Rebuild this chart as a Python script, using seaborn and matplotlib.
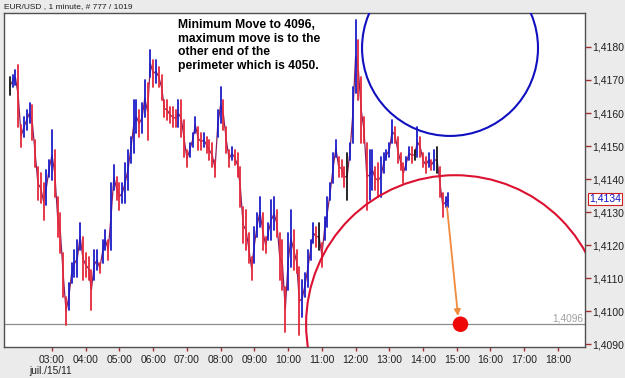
import numpy as np
import pandas as pd
import matplotlib
matplotlib.use("Agg")
import matplotlib.pyplot as plt
import matplotlib.transforms as mtransforms
from matplotlib.patches import Ellipse
import seaborn as sns

# ---------------- data ----------------
title = "EUR/USD , 1 minute, # 777 / 1019"
date_label = "juil./15/11"
note_lines = ["Minimum Move to 4096,",
              "maximum move is to the",
              "other end of the",
              "perimeter which is 4050."]

start_minute = 105      # first bar at 01:45
bar_minutes = 5         # one drawn bar per 5 minutes

high = [1.41709, 1.41715, 1.41730, 1.41745, 1.41564, 1.41588, 1.41609, 1.41630, 1.41624, 1.41518,
        1.41436, 1.41418, 1.41388, 1.41427, 1.41458, 1.41548, 1.41488, 1.41345, 1.41297, 1.41176,
        1.41042, 1.41085, 1.41145, 1.41185, 1.41215, 1.41267, 1.41224, 1.41176, 1.41164, 1.41124,
        1.41185, 1.41185, 1.41145, 1.41215, 1.41245, 1.41215, 1.41388, 1.41442, 1.41406, 1.41388,
        1.41388, 1.41448, 1.41488, 1.41527, 1.41639, 1.41639, 1.41609, 1.41630, 1.41700, 1.41691,
        1.41791, 1.41761, 1.41761, 1.41739, 1.41715, 1.41639, 1.41639, 1.41618, 1.41618, 1.41609,
        1.41639, 1.41639, 1.41579, 1.41488, 1.41509, 1.41539, 1.41588, 1.41558, 1.41539, 1.41539,
        1.41527, 1.41518, 1.41509, 1.41458, 1.41609, 1.41679, 1.41639, 1.41558, 1.41488, 1.41497,
        1.41488, 1.41479, 1.41436, 1.41315, 1.41306, 1.41236, 1.41164, 1.41255, 1.41297, 1.41345,
        1.41297, 1.41224, 1.41267, 1.41336, 1.41345, 1.41306, 1.41236, 1.41215, 1.41073, 1.41236,
        1.41306, 1.41245, 1.41185, 1.41133, 1.41094, 1.41115, 1.41185, 1.41215, 1.41267, 1.41255,
        1.41267, 1.41206, 1.41285, 1.41345, 1.41388, 1.41479, 1.41518, 1.41467, 1.41458, 1.41436,
        1.41479, 1.41509, 1.41679, 1.41882, 1.41821, 1.41709, 1.41588, 1.41509, 1.41488, 1.41488,
        1.41436, 1.41448, 1.41467, 1.41479, 1.41488, 1.41509, 1.41579, 1.41558, 1.41527, 1.41479,
        1.41448, 1.41467, 1.41497, 1.41497, 1.41488, 1.41558, 1.41527, 1.41479, 1.41467, 1.41479,
        1.41458, 1.41488, 1.41497, 1.41436, 1.41358, 1.41345, 1.41358]

low = [1.41655, 1.41679, 1.41685, 1.41558, 1.41497, 1.41527, 1.41548, 1.41570, 1.41518, 1.41436,
       1.41336, 1.41327, 1.41276, 1.41321, 1.41406, 1.41397, 1.41345, 1.41224, 1.41176, 1.41042,
       1.40958, 1.41003, 1.41085, 1.41103, 1.41103, 1.41185, 1.41094, 1.41103, 1.41094, 1.41003,
       1.41094, 1.41124, 1.41115, 1.41145, 1.41185, 1.41155, 1.41185, 1.41367, 1.41336, 1.41306,
       1.41327, 1.41327, 1.41367, 1.41448, 1.41479, 1.41539, 1.41527, 1.41539, 1.41588, 1.41518,
       1.41709, 1.41679, 1.41691, 1.41679, 1.41639, 1.41588, 1.41579, 1.41570, 1.41558, 1.41558,
       1.41558, 1.41527, 1.41467, 1.41436, 1.41467, 1.41497, 1.41539, 1.41488, 1.41488, 1.41497,
       1.41479, 1.41458, 1.41436, 1.41406, 1.41527, 1.41570, 1.41548, 1.41479, 1.41436, 1.41458,
       1.41442, 1.41406, 1.41315, 1.41206, 1.41185, 1.41145, 1.41094, 1.41145, 1.41224, 1.41255,
       1.41185, 1.41176, 1.41215, 1.41215, 1.41245, 1.41224, 1.41094, 1.41064, 1.40936, 1.41064,
       1.41133, 1.41124, 1.41115, 1.40927, 1.40982, 1.41042, 1.41073, 1.41155, 1.41206, 1.41194,
       1.41185, 1.41133, 1.41215, 1.41255, 1.41336, 1.41388, 1.41467, 1.41406, 1.41406, 1.41376,
       1.41336, 1.41458, 1.41509, 1.41661, 1.41639, 1.41509, 1.41509, 1.41306, 1.41336, 1.41367,
       1.41367, 1.41345, 1.41345, 1.41418, 1.41458, 1.41467, 1.41509, 1.41509, 1.41448, 1.41427,
       1.41388, 1.41427, 1.41458, 1.41448, 1.41458, 1.41467, 1.41467, 1.41436, 1.41418, 1.41436,
       1.41427, 1.41427, 1.41418, 1.41345, 1.41285, 1.41315, 1.41315]

last_price = 1.4134
target_level = 1.4096
price_ticks = [1.4090, 1.4100, 1.4110, 1.4120, 1.4130, 1.4140, 1.4150, 1.4160, 1.4170, 1.4180]
hour_labels = ["03:00", "04:00", "05:00", "06:00", "07:00", "08:00", "09:00", "10:00",
               "11:00", "12:00", "13:00", "14:00", "15:00", "16:00", "17:00", "18:00"]

# annotation geometry (minutes since 00:00, price)
blue_circle = dict(center=(888, 1.41797), width=313, height=0.00533)
red_circle = dict(center=(897, 1.4096), width=530, height=0.00903)
arrow_from = (882.6, 1.41315)
arrow_to = (902.2, 1.40985)
dot_minute = 906.6

# ---------------- figure ----------------
sns.set_style("white")
plt.rcParams["font.family"] = ["Liberation Sans", "DejaVu Sans"]

W, H = 625, 378
fig = plt.figure(figsize=(W / 100, H / 100), dpi=100, facecolor="#ebebeb")
L, R, T, B = 4, 585, 13, 347
ax = fig.add_axes([L / W, 1 - B / H, (R - L) / W, (B - T) / H])
ax.set_facecolor("white")

n = len(high)
minutes = start_minute + bar_minutes * np.arange(n)
h = np.array(high)
l = np.array(low)
mid = (h + l) / 2
chg = np.diff(mid, prepend=mid[0])
direction = np.where(chg > 0.00004, "up", np.where(chg < -0.00004, "down", "flat"))

# thin path through the bar midpoints (keeps the series visually continuous)
sns.lineplot(x=minutes, y=mid, color="#8a2060", lw=0.9, sort=False, ax=ax, zorder=2)

df = pd.DataFrame({
    "bar": np.repeat(np.arange(n), 2),
    "minute": np.repeat(minutes, 2),
    "price": np.column_stack([l, h]).ravel(),
    "dir": np.repeat(direction, 2),
})
palette = {"up": "#1c1cc8", "down": "#e4283a", "flat": "#151515"}
sns.lineplot(data=df, x="minute", y="price", units="bar", estimator=None, hue="dir",
             palette=palette, lw=1.3, legend=False, sort=False, ax=ax, zorder=3)

# target level line
ax.axhline(target_level, color="#8c8c8c", lw=0.9, zorder=1)
tr = mtransforms.blended_transform_factory(ax.transAxes, ax.transData)
ax.text(0.997, target_level + 0.00003, f"{target_level:.4f}".replace(".", ","),
        transform=tr, ha="right", va="bottom", fontsize=7.3, color="#a0a0a0")

# circles
ax.add_patch(Ellipse(blue_circle["center"], blue_circle["width"], blue_circle["height"],
                     fill=False, ec="#1010c0", lw=1.5, zorder=4))
ax.add_patch(Ellipse(red_circle["center"], red_circle["width"], red_circle["height"],
                     fill=False, ec="#dc1030", lw=1.5, zorder=4))

# arrow and dot
ax.annotate("", xy=arrow_to, xytext=arrow_from,
            arrowprops=dict(arrowstyle="-|>", color="#f08a3c", lw=1.3,
                            mutation_scale=9, shrinkA=0, shrinkB=0), zorder=5)
sns.scatterplot(x=[dot_minute], y=[target_level], s=125, color="#ee0808",
                edgecolor="none", zorder=6, ax=ax, legend=False)

# axes
ax.set_xlim(94.6, 1128.1)
ax.set_ylim(1.40891, 1.41903)
hour_pos = [int(s[:2]) * 60 + int(s[3:]) for s in hour_labels]
ax.set_xticks(hour_pos)
ax.set_xticklabels(hour_labels)
ax.yaxis.tick_right()
ax.set_yticks(price_ticks)
ax.set_yticklabels([f"{v:.4f}".replace(".", ",") for v in price_ticks])
ax.tick_params(axis="y", direction="out", length=4, width=1, color="#a03030",
               labelsize=7.5, pad=1.5, labelcolor="#202020", right=True, left=False)
ax.tick_params(axis="x", direction="out", length=3, width=1, color="#a03030",
               labelsize=7.5, pad=2.5, labelcolor="#202020", bottom=True)
ax.set_xlabel("")
ax.set_ylabel("")
for sp in ax.spines.values():
    sp.set_color("#505050")
    sp.set_linewidth(1.0)

# last price box
ax.text(1 + 4 / (R - L), last_price, f"{last_price:.4f}".replace(".", ","),
        transform=tr, ha="left", va="center", fontsize=7.5, color="#1010c0",
        bbox=dict(boxstyle="square,pad=0.12", fc="white", ec="#d02020", lw=0.8),
        clip_on=False, zorder=10)

# texts
fig.text(4 / W, 1 - 7 / H, title, ha="left", va="center", fontsize=6.0, color="#202020")
fig.text(29 / W, 1 - 371 / H, date_label, ha="left", va="center", fontsize=7.3, color="#202020")
for k, line in enumerate(note_lines):
    fig.text(178 / W, 1 - (25 + 13.5 * k) / H, line, ha="left", va="center",
             fontsize=8.7, fontweight="bold", color="black")

fig.savefig("out.png", dpi=100, facecolor=fig.get_facecolor())
